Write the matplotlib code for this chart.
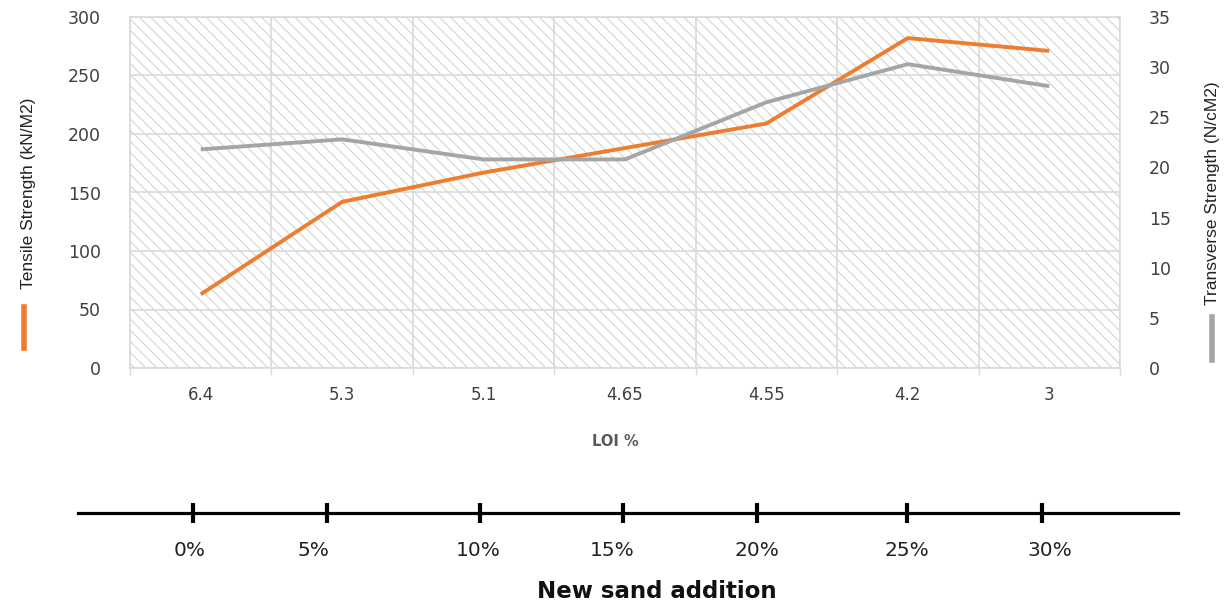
import matplotlib
matplotlib.use("Agg")
import matplotlib.pyplot as plt
from matplotlib.patches import Rectangle
from matplotlib.lines import Line2D

# ---- data ----
loi_labels = ["6.4", "5.3", "5.1", "4.65", "4.55", "4.2", "3"]
tensile = [63, 142, 167, 188, 209, 282, 271]          # kN/M2 (left axis)
transverse = [21.8, 22.8, 20.8, 20.8, 26.5, 30.3, 28.1]  # N/cM2 (right axis)
sand_labels = ["0%", "5%", "10%", "15%", "20%", "25%", "30%"]

W, H = 1230, 609
fig = plt.figure(figsize=(W / 100, H / 100), dpi=100)
plt.rcParams['hatch.linewidth'] = 0.7

def fx(px):
    return px / W

def fy(py):
    return 1 - py / H

grid_c = "#d9d9d9"
tick_c = "#404040"
orange = "#ED7D31"
gray = "#A5A5A5"
narrow = ['Liberation Sans Narrow', 'Liberation Sans', 'DejaVu Sans']

# ---- main axes ----
left, right, top, bottom = 130, 1120, 17, 368
ax = fig.add_axes([fx(left), fy(bottom), fx(right - left), (bottom - top) / H])
ax.set_xlim(-0.5, len(loi_labels) - 0.5)
ax.set_ylim(0, 300)
ax.add_patch(Rectangle((0, 0), 1, 1, transform=ax.transAxes, facecolor="white",
                       edgecolor="#cfcfcf", hatch="\\\\\\", linewidth=0, zorder=0))
x = list(range(len(loi_labels)))
ax.set_xticks(x)
ax.set_xticklabels(loi_labels)
ax.set_xticks([i - 0.5 for i in range(len(loi_labels) + 1)], minor=True)
ax.set_yticks(range(0, 301, 50))
ax.tick_params(axis='x', which='major', length=0, pad=13, labelsize=12, labelcolor=tick_c)
ax.tick_params(axis='x', which='minor', length=5, width=1, color=grid_c)
ax.tick_params(axis='y', length=0, pad=21, labelsize=12.5, labelcolor=tick_c)
ax.grid(axis='x', which='minor', color=grid_c, linewidth=1.2)
ax.grid(axis='y', which='major', color=grid_c, linewidth=1.2)
ax.set_axisbelow(True)
for s in ax.spines.values():
    s.set_color(grid_c)
    s.set_linewidth(1.2)
ax.plot(x, tensile, color=orange, linewidth=2.8, solid_capstyle='butt', zorder=3)

ax2 = ax.twinx()
ax2.set_ylim(0, 35)
ax2.set_yticks(range(0, 36, 5))
ax2.tick_params(axis='y', length=0, pad=21, labelsize=12.5, labelcolor=tick_c)
for s in ax2.spines.values():
    s.set_visible(False)
ax2.plot(x, transverse, color=gray, linewidth=2.8, solid_capstyle='butt', zorder=3)

# axis titles with legend swatches
fig.text(fx(28), fy(193), "Tensile Strength (kN/M2)", rotation=90, ha='center', va='center',
         fontsize=12.5, family=narrow, color="#222222")
fig.add_artist(Line2D([fx(24), fx(24)], [fy(307), fy(348)], color=orange, linewidth=4,
                      transform=fig.transFigure))
fig.text(fx(1213), fy(193), "Transverse Strength (N/cM2)", rotation=90, ha='center', va='center',
         fontsize=12.5, family=narrow, color="#222222")
fig.add_artist(Line2D([fx(1212), fx(1212)], [fy(317), fy(360)], color=gray, linewidth=4,
                      transform=fig.transFigure))
fig.text(fx(615), fy(441), "LOI %", ha='center', va='center', fontsize=10.5,
         fontweight='bold', color="#595959")

# ---- bottom "New sand addition" axis ----
b_left, b_right, b_y = 78, 1178, 513
sand_tick_px = [193, 327, 480, 623, 757, 907, 1042]
sand_label_px = [190, 313, 478, 612, 757, 907, 1050]
axb = fig.add_axes([fx(b_left), fy(b_y), fx(b_right - b_left), 0.001])
axb.set_xlim(b_left, b_right)
axb.set_ylim(0, 1)
axb.patch.set_visible(False)
for k in ("top", "left", "right"):
    axb.spines[k].set_visible(False)
axb.spines["bottom"].set_linewidth(2.3)
axb.spines["bottom"].set_color("black")
axb.set_yticks([])
axb.set_xticks(sand_tick_px)
axb.set_xticklabels([""] * len(sand_tick_px))
axb.tick_params(axis='x', which='major', direction='inout', length=14, width=3, color='black')

axl = axb.twiny()
axl.set_xlim(b_left, b_right)
axl.patch.set_visible(False)
for s in axl.spines.values():
    s.set_visible(False)
axl.xaxis.set_ticks_position('bottom')
axl.xaxis.set_label_position('bottom')
axl.set_xticks(sand_label_px)
axl.set_xticklabels(sand_labels)
axl.tick_params(axis='x', length=0, pad=20, labelsize=14.5, labelcolor="#222222")

fig.text(fx(657), fy(591), "New sand addition", ha='center', va='center', fontsize=16.5,
         fontweight='bold', color="#111111")

fig.savefig("out.png", dpi=100)
